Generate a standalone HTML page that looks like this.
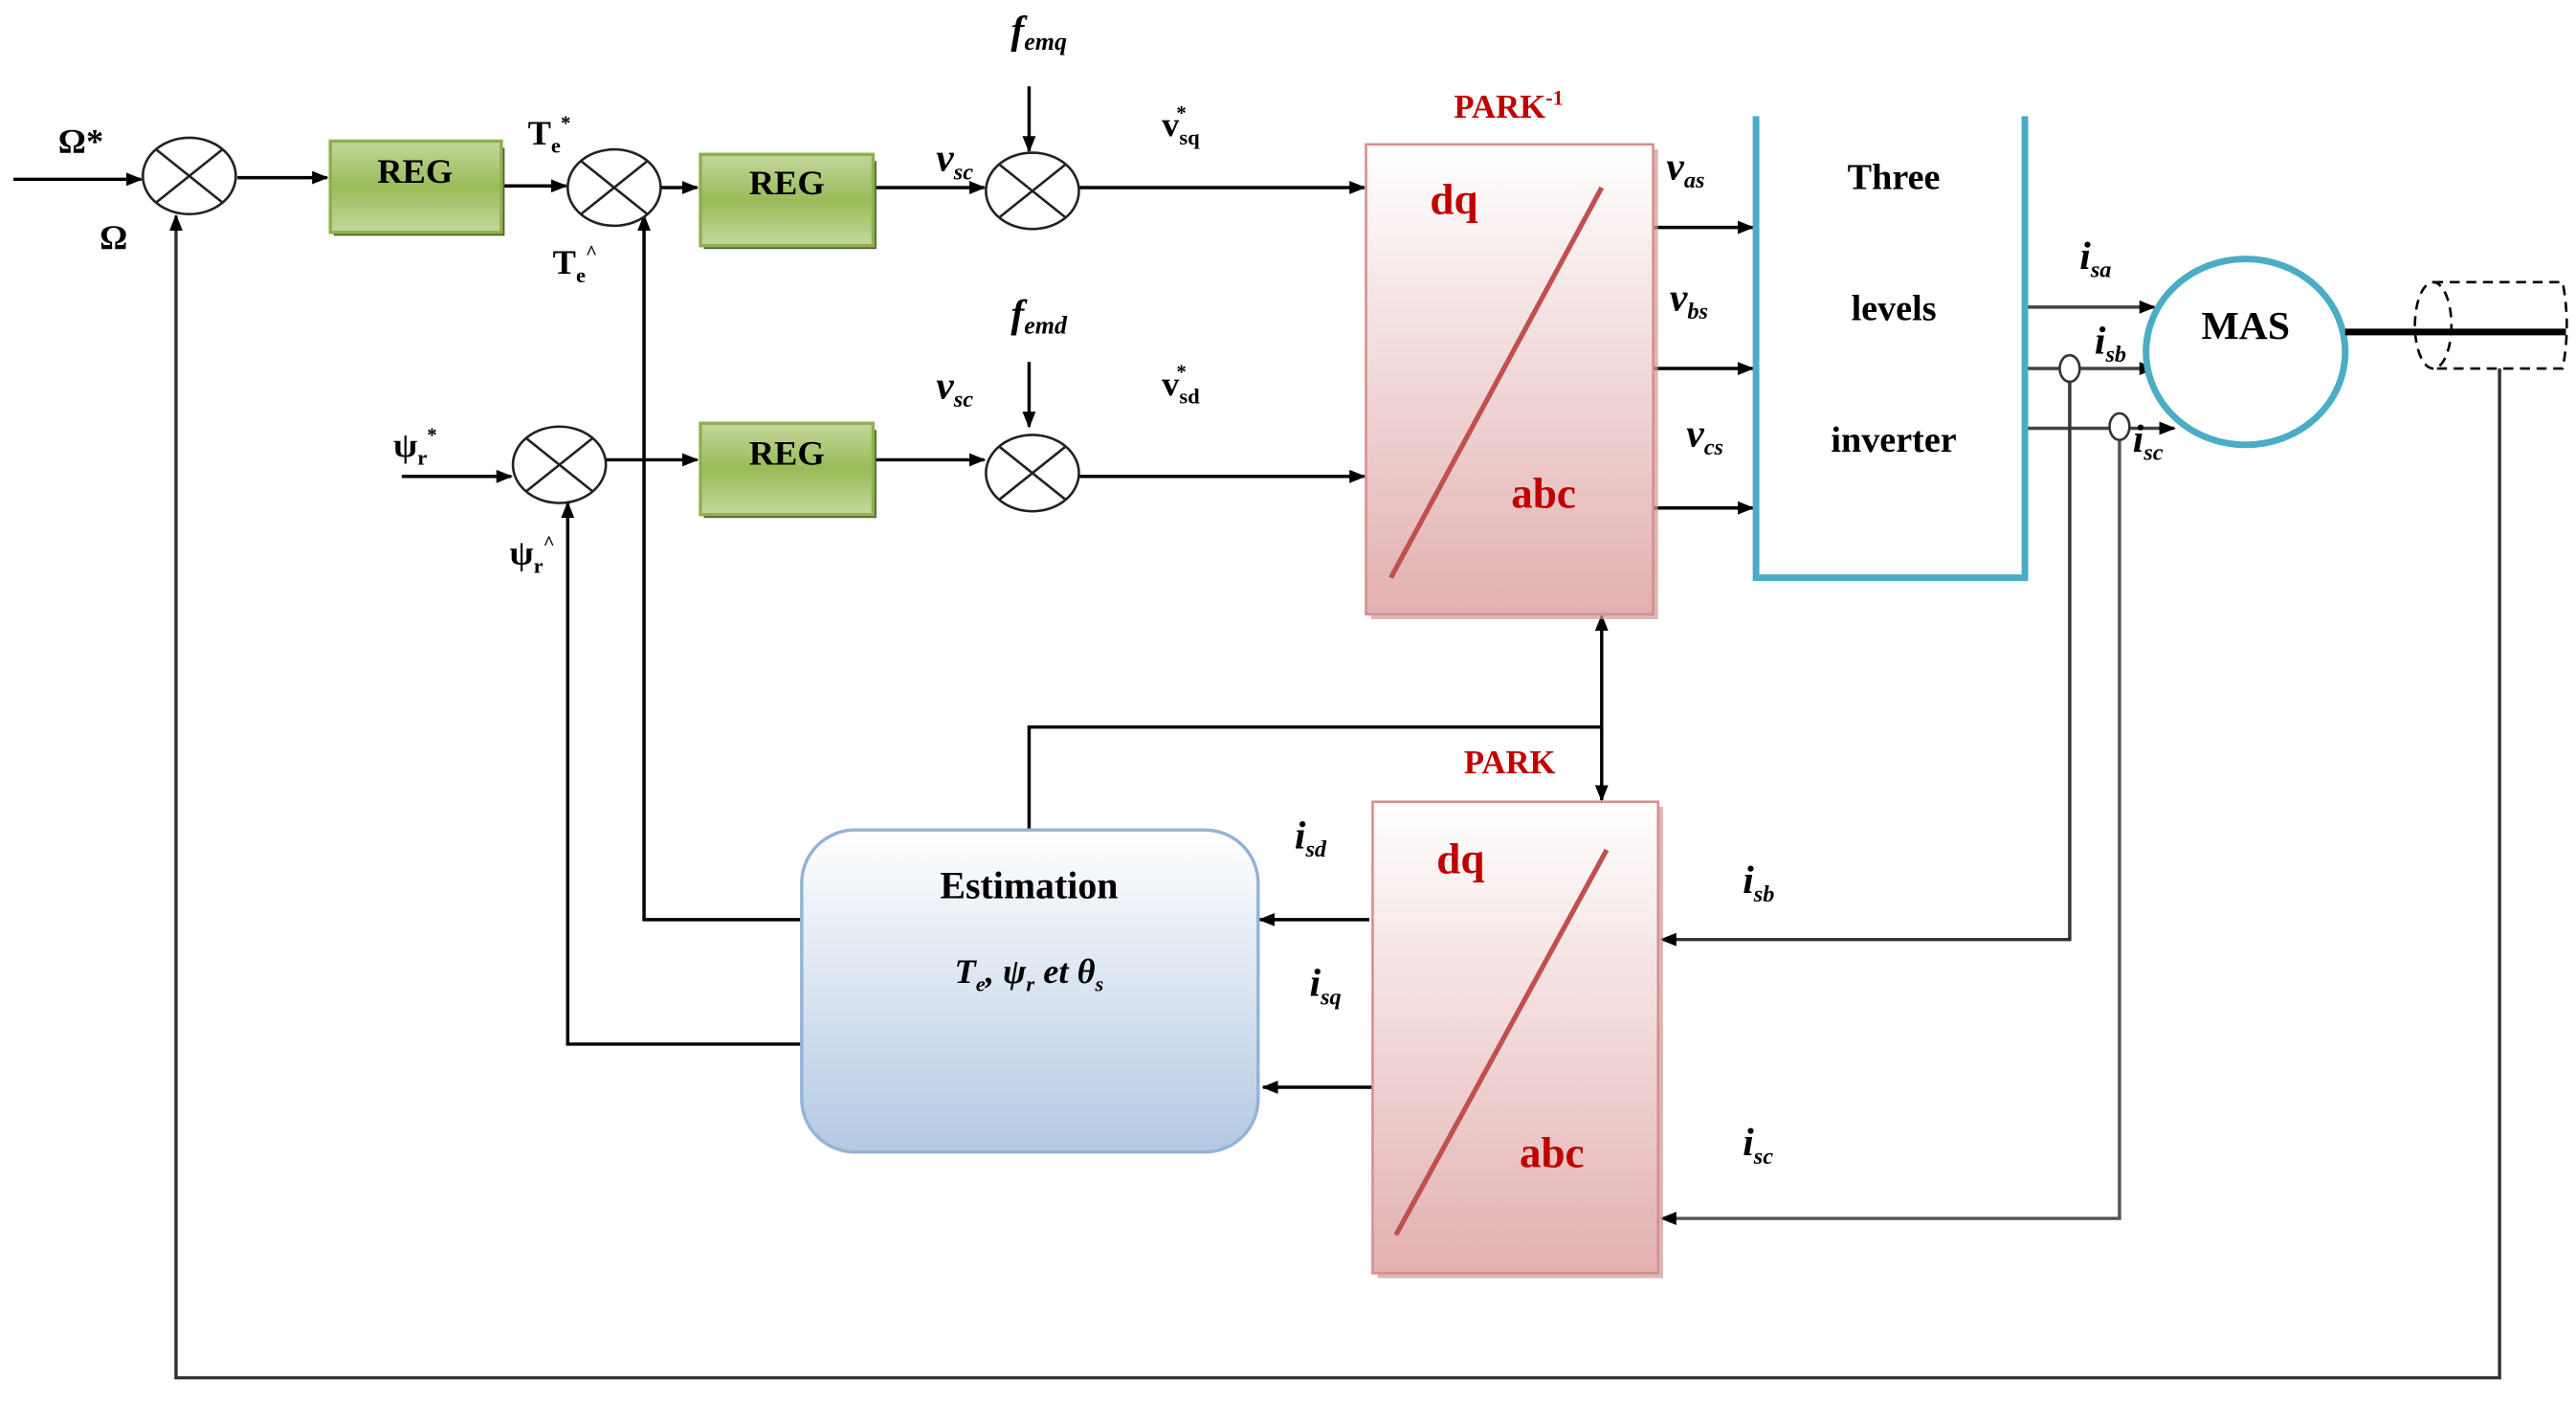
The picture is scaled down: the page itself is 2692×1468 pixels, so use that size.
<!DOCTYPE html>
<html><head><meta charset="utf-8"><style>
html,body{margin:0;padding:0;background:#fff;}
svg{display:block;}
text{font-family:"Liberation Serif",serif;}
.b{font-weight:bold;}
.i{font-style:italic;font-weight:bold;}
.red{fill:#c00000;font-weight:bold;}
</style></head><body>
<svg width="2692" height="1468" viewBox="0 0 1552 846.4" xmlns="http://www.w3.org/2000/svg">
<defs>
<marker id="a" markerWidth="10" markerHeight="10" refX="9" refY="5" orient="auto" markerUnits="userSpaceOnUse"><path d="M0,1 L10,5 L0,9 z" fill="#000"/></marker>
<linearGradient id="g" x1="0" y1="0" x2="0" y2="1"><stop offset="0" stop-color="#c3d89b"/><stop offset="0.5" stop-color="#9bbb59"/><stop offset="1" stop-color="#c3d89b"/></linearGradient>
<linearGradient id="p" x1="0" y1="0" x2="0" y2="1"><stop offset="0" stop-color="#ffffff"/><stop offset="1" stop-color="#e3b0b0"/></linearGradient>
<linearGradient id="e" x1="0" y1="0" x2="0" y2="1"><stop offset="0" stop-color="#ffffff"/><stop offset="1" stop-color="#b3c9e3"/></linearGradient>
</defs>
<g stroke="#000" stroke-width="2" fill="none">
<!-- top row -->
<line x1="8" y1="108" x2="85" y2="108" marker-end="url(#a)"/>
<line x1="143" y1="107" x2="197" y2="107" marker-end="url(#a)"/>
<line x1="302" y1="112" x2="341" y2="112" marker-end="url(#a)"/>
<line x1="398" y1="113" x2="420" y2="113" marker-end="url(#a)"/>
<line x1="526" y1="113" x2="593" y2="113" marker-end="url(#a)"/>
<line x1="620" y1="52" x2="620" y2="91" marker-end="url(#a)"/>
<line x1="650" y1="113" x2="822" y2="113" marker-end="url(#a)"/>
<!-- lower row -->
<line x1="242" y1="287" x2="308" y2="287" marker-end="url(#a)"/>
<line x1="365" y1="277" x2="420" y2="277" marker-end="url(#a)"/>
<line x1="526" y1="277" x2="593" y2="277" marker-end="url(#a)"/>
<line x1="620" y1="218" x2="620" y2="257" marker-end="url(#a)"/>
<line x1="650" y1="287" x2="822" y2="287" marker-end="url(#a)"/>
<!-- park-1 outputs -->
<line x1="996" y1="137" x2="1056" y2="137" marker-end="url(#a)"/>
<line x1="996" y1="222" x2="1056" y2="222" marker-end="url(#a)"/>
<line x1="996" y1="306" x2="1056" y2="306" marker-end="url(#a)"/>
<!-- inverter outputs -->
<line x1="1220" y1="185" x2="1298" y2="185" marker-end="url(#a)" stroke="#444"/>
<line x1="1220" y1="222" x2="1298" y2="222" marker-end="url(#a)" stroke="#444"/>
<line x1="1220" y1="258" x2="1310" y2="258" marker-end="url(#a)" stroke="#444"/>
<!-- current feedback -->
<polyline points="1247,228 1247,566 1001,566" marker-end="url(#a)" stroke="#333"/>
<polyline points="1277,263 1277,734 1001,734" marker-end="url(#a)" stroke="#555"/>
<!-- speed feedback -->
<polyline points="1506,222 1506,830 106,830 106,130" marker-end="url(#a)" stroke="#333"/>
<!-- park link -->
<line x1="965" y1="438" x2="965" y2="371" marker-end="url(#a)"/>
<line x1="965" y1="438" x2="965" y2="482" marker-end="url(#a)"/>
<polyline points="620,500 620,438 965,438"/>
<!-- park to estimation -->
<line x1="825" y1="554" x2="759" y2="554" marker-end="url(#a)"/>
<line x1="827" y1="655" x2="761" y2="655" marker-end="url(#a)"/>
<!-- estimation outputs -->
<polyline points="483,554 388,554 388,130" marker-end="url(#a)"/>
<polyline points="483,629 342,629 342,303" marker-end="url(#a)"/>
</g>
<!-- sum circles -->
<g stroke="#222" stroke-width="1.5" fill="#fff">
<ellipse cx="114" cy="106" rx="28" ry="23"/><path d="M94,90 L134,122 M134,90 L94,122" fill="none"/>
<ellipse cx="370" cy="113" rx="28" ry="23"/><path d="M350,97 L390,129 M390,97 L350,129" fill="none"/>
<ellipse cx="622" cy="115" rx="28" ry="23"/><path d="M602,99 L642,131 M642,99 L602,131" fill="none"/>
<ellipse cx="337" cy="280" rx="28" ry="23"/><path d="M317,264 L357,296 M357,264 L317,296" fill="none"/>
<ellipse cx="622" cy="285" rx="28" ry="23"/><path d="M602,269 L642,301 M642,269 L602,301" fill="none"/>
</g>
<!-- REG boxes -->
<g stroke="#8fb052" stroke-width="2">
<rect x="201" y="89" width="103" height="53" fill="#4f6228" stroke="none"/>
<rect x="199" y="85" width="103" height="55" fill="url(#g)"/>
<rect x="424" y="97" width="104" height="53" fill="#4f6228" stroke="none"/>
<rect x="422" y="93" width="104" height="55" fill="url(#g)"/>
<rect x="424" y="259" width="104" height="53" fill="#4f6228" stroke="none"/>
<rect x="422" y="255" width="104" height="55" fill="url(#g)"/>
</g>
<g class="b" font-size="21" text-anchor="middle">
<text x="250" y="110">REG</text><text x="474" y="117">REG</text><text x="474" y="280">REG</text>
</g>
<!-- PARK boxes -->
<rect x="826" y="90" width="173" height="283" fill="#c99" opacity="0.7"/>
<rect x="823" y="87" width="173" height="283" fill="url(#p)" stroke="#d58f8f" stroke-width="1.5"/>
<line x1="965" y1="113" x2="838" y2="348" stroke="#c0504d" stroke-width="3"/>
<rect x="830" y="486" width="172" height="284" fill="#c99" opacity="0.7"/>
<rect x="827" y="483" width="172" height="284" fill="url(#p)" stroke="#d58f8f" stroke-width="1.5"/>
<line x1="968" y1="512" x2="841" y2="744" stroke="#c0504d" stroke-width="3"/>
<text class="red" x="876" y="129" font-size="26" text-anchor="middle">dq</text>
<text class="red" x="930" y="306" font-size="26" text-anchor="middle">abc</text>
<text class="red" x="880" y="526" font-size="26" text-anchor="middle">dq</text>
<text class="red" x="935" y="703" font-size="26" text-anchor="middle">abc</text>
<text class="red" x="876" y="71" font-size="20">PARK<tspan font-size="13" dy="-8">-1</tspan></text>
<text class="red" x="882" y="466" font-size="20">PARK</text>
<!-- inverter -->
<polyline points="1058,70 1058,348 1220,348 1220,70" fill="none" stroke="#4bacc6" stroke-width="4"/>
<g class="b" font-size="22" text-anchor="middle">
<text x="1141" y="114">Three</text><text x="1141" y="193">levels</text><text x="1141" y="272">inverter</text>
</g>
<!-- small circles -->
<ellipse cx="1247" cy="222" rx="6" ry="8" fill="#fff" stroke="#333" stroke-width="1.5"/>
<ellipse cx="1277" cy="257" rx="6" ry="8" fill="#fff" stroke="#333" stroke-width="1.5"/>
<!-- MAS -->
<ellipse cx="1353" cy="212" rx="60" ry="56" fill="#fff" stroke="#4bacc6" stroke-width="4"/>
<text class="b" x="1353" y="204" font-size="24" text-anchor="middle">MAS</text>
<line x1="1413" y1="200" x2="1546" y2="200" stroke="#000" stroke-width="4"/>
<path d="M1466,170 L1544,170 Q1549,196 1544,222 L1466,222" fill="none" stroke="#000" stroke-width="1.5" stroke-dasharray="6,4"/>
<ellipse cx="1466" cy="196" rx="11" ry="26" fill="none" stroke="#000" stroke-width="1.5" stroke-dasharray="6,4"/>
<!-- estimation -->
<rect x="483" y="500" width="275" height="194" rx="32" fill="url(#e)" stroke="#95b3d7" stroke-width="2"/>
<text class="b" x="620" y="541" font-size="23" text-anchor="middle">Estimation</text>
<text class="i" x="620" y="592" font-size="21" text-anchor="middle">T<tspan font-size="13" dy="5">e</tspan><tspan dy="-5">, ψ</tspan><tspan font-size="13" dy="5">r</tspan><tspan dy="-5"> et θ</tspan><tspan font-size="13" dy="5">s</tspan></text>
<!-- labels -->
<g class="b" font-size="21">
<text x="35" y="92">Ω*</text>
<text x="60" y="150">Ω</text>
<text x="318" y="87">T<tspan font-size="13" dy="5">e</tspan><tspan font-size="12" dy="-14">*</tspan></text>
<text x="333" y="165">T<tspan font-size="13" dy="5">e</tspan><tspan font-size="12" dy="-14">^</tspan></text>
<text x="237" y="275">ψ<tspan font-size="13" dy="5">r</tspan><tspan font-size="12" dy="-14">*</tspan></text>
<text x="307" y="340">ψ<tspan font-size="13" dy="5">r</tspan><tspan font-size="12" dy="-14">^</tspan></text>
<text x="700" y="82">v<tspan font-size="13" dy="5">sq</tspan><tspan font-size="12" dy="-15" dx="-14">*</tspan></text>
<text x="700" y="238">v<tspan font-size="13" dy="5">sd</tspan><tspan font-size="12" dy="-15" dx="-14">*</tspan></text>
</g>
<g class="i" font-size="24">
<text x="609" y="26">f<tspan font-size="15" dy="4">emq</tspan></text>
<text x="609" y="197">f<tspan font-size="15" dy="4">emd</tspan></text>
<text x="564" y="103">v<tspan font-size="14" dy="5">sc</tspan></text>
<text x="564" y="240">v<tspan font-size="14" dy="5">sc</tspan></text>
<text x="1004" y="108">v<tspan font-size="14" dy="5">as</tspan></text>
<text x="1006" y="187">v<tspan font-size="14" dy="5">bs</tspan></text>
<text x="1016" y="269">v<tspan font-size="14" dy="5">cs</tspan></text>
<text x="1253" y="162">i<tspan font-size="14" dy="5">sa</tspan></text>
<text x="1262" y="213">i<tspan font-size="14" dy="5">sb</tspan></text>
<text x="1285" y="272">i<tspan font-size="14" dy="5">sc</tspan></text>
<text x="780" y="511">i<tspan font-size="14" dy="5">sd</tspan></text>
<text x="789" y="600">i<tspan font-size="14" dy="5">sq</tspan></text>
<text x="1050" y="538">i<tspan font-size="14" dy="5">sb</tspan></text>
<text x="1050" y="696">i<tspan font-size="14" dy="5">sc</tspan></text>
</g>
</svg>
</body></html>
